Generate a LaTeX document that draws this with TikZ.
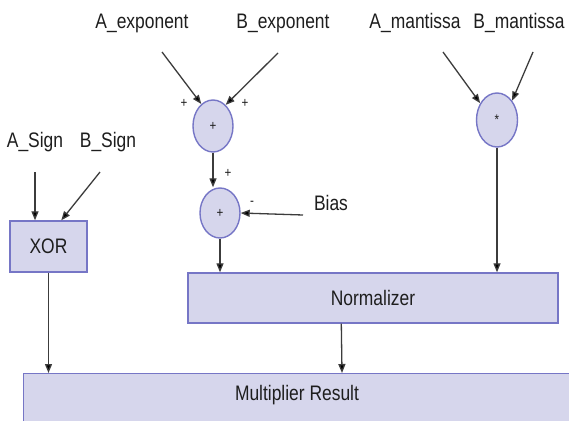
\documentclass[tikz,border=0pt]{standalone}
\usepackage{fontspec}
\setmainfont[FakeStretch=0.83]{Liberation Sans}
\usetikzlibrary{arrows.meta,shapes.geometric,calc}
\definecolor{boxfill}{RGB}{214,214,236}
\definecolor{boxline}{RGB}{118,118,198}
\definecolor{wire}{RGB}{60,60,60}
\definecolor{txt}{RGB}{30,30,30}
\begin{document}
\begin{tikzpicture}[x=1pt,y=-1pt,
  lbl/.style={font=\fontsize{21}{24}\selectfont, text=txt, inner sep=0pt},
  sml/.style={font=\fontsize{14}{15}\selectfont, text=txt, inner sep=0pt},
  oval/.style={ellipse, draw=boxline, fill=boxfill, line width=1.4pt, inner sep=0pt,
    minimum width=40pt, minimum height=52pt, font=\fontsize{14}{15}\selectfont, text=txt},
  blk/.style={rectangle, draw=boxline, fill=boxfill, line width=1.4pt, inner sep=0pt,
    font=\fontsize{21}{24}\selectfont, text=txt},
  arr/.style={draw=wire, line width=1.3pt, -{Triangle[length=9pt,width=7pt,fill=black]}},
]
\useasboundingbox (0,0) rectangle (569,420);
\clip (0,0) rectangle (569,420);
\fill[white] (0,0) rectangle (569,420);

% labels
\node[lbl] (aexp) at (142,23) {A\_exponent};
\node[lbl] (bexp) at (283,23) {B\_exponent};
\node[lbl] (aman) at (415,23) {A\_mantissa};
\node[lbl] (bman) at (519,23) {B\_mantissa};
\node[lbl] (asign) at (35,142) {A\_Sign};
\node[lbl] (bsign) at (108,142) {B\_Sign};
\node[lbl] (bias) at (331,203) {Bias};

% arrow tails
\coordinate (ta) at (162,52);
\coordinate (tb) at (278,53);
\coordinate (tc) at (443,52);
\coordinate (td) at (533,52);
\coordinate (tsa) at (35,172);
\coordinate (tsb) at (100,172);
\coordinate (tbias) at (303,215);

% operators
\node[oval] (c1) at (213,126) {+};
\node[oval, minimum width=41pt, minimum height=54pt] (mc) at (497,120) {*};
\node[oval, minimum height=50pt] (c3) at (220,213) {+};

% blocks
\node[blk, minimum width=77pt, minimum height=51pt] (xor) at (48.5,246.5) {XOR};
\node[blk, minimum width=370pt, minimum height=50pt] (norm) at (373,298) {Normalizer};
\node[blk, minimum width=560pt, minimum height=62pt, anchor=north west] (res) at (23,373) {};
\node[lbl] (restext) at (297,395) {Multiplier Result};

% sign labels
\node[sml] (p1) at (184,103) {+};
\node[sml] (p2) at (245,103) {+};
\node[sml] (p3) at (228,173) {+};
\node[sml] (m1) at (252,203) {-};

% connectors
\draw[arr] (ta) -- (c1.118);
\draw[arr] (tb) -- (c1.59);
\draw[arr] (tc) -- (mc.135);
\draw[arr] (td) -- (mc.52);
\draw[arr] (tsa) -- (xor.north -| tsa);
\draw[arr] (tsb) -- ($(xor.north west)+(52,0)$);
\draw[arr] (c1.south) -- (c1.south |- c3.north);
\draw[arr] (tbias) -- (c3.east);
\draw[arr] (c3.south) -- (c3.south |- norm.north);
\draw[arr] (mc.south) -- (mc.south |- norm.north);
\draw[arr] (xor.south) -- (xor.south |- res.north);
\draw[arr] ($(norm.south west)+(154,0)$) -- ($(res.north west)+(319,0)$);
\end{tikzpicture}
\end{document}
